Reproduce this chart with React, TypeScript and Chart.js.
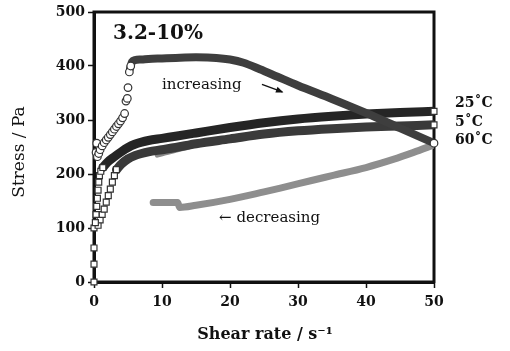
import React, { useEffect, useRef } from "react";
import { Chart, registerables } from "chart.js";

Chart.register(...registerables);

// Axis ticks
const xTicks = [0, 10, 20, 30, 40, 50];
const yTicks = [0, 100, 200, 300, 400, 500];

// 60°C increasing – open circles at low shear rate
const circ60X = [0.3, 0.4, 0.5, 0.7, 0.9, 1.2, 1.5, 1.8, 2.1, 2.4, 2.7, 3.0, 3.3, 3.6, 3.9, 4.2, 4.5, 4.7, 4.9, 5.0, 5.2, 5.4, 50];
const circ60Y = [240, 257, 232, 238, 245, 252, 258, 263, 268, 273, 278, 283, 288, 293, 298, 304, 312, 335, 340, 360, 389, 400, 257];

// 60°C increasing – dense band
const inc60X = [5.3, 5.6, 6, 7, 8, 10, 12, 15, 18, 20, 22, 24.4, 27, 30, 35, 40, 45, 50];
const inc60Y = [395, 408, 411, 412, 413, 414, 415, 416, 415, 412, 406, 394, 380, 364, 339, 313, 285, 257];

// 60°C decreasing
const dec60X = [8.7, 12.3, 12.6, 15, 20, 25, 27.4, 32, 35, 40, 44, 47, 50];
const dec60Y = [147, 147, 138, 142, 153, 167, 174, 188, 197, 212, 227, 240, 254];

// 25°C open squares at low shear rate
const sq25X = [0, 0, 0, 0.2, 0.3, 0.4, 0.5, 0.6, 0.7, 0.8, 1.0, 1.3, 50];
const sq25Y = [0, 33, 63, 110, 125, 140, 155, 170, 185, 197, 205, 212, 316];

// 25°C band
const band25X = [1.3, 2, 3, 4, 5, 6, 7, 8, 10, 12, 15, 20, 25, 30, 35, 40, 45, 50];
const band25Y = [212, 222, 232, 241, 249, 255, 259, 262, 266, 270, 276, 286, 295, 302, 307, 311, 314, 316];

// 5°C open squares at low shear rate
const sq5X = [0, 0.6, 0.9, 1.2, 1.5, 1.8, 2.1, 2.4, 2.7, 3.0, 3.3, 50];
const sq5Y = [100, 105, 115, 125, 135, 148, 160, 172, 185, 197, 208, 291];

// 5°C band
const band5X = [3.3, 4, 5, 6, 7, 8, 10, 12, 15, 20, 25, 30, 35, 40, 45, 50];
const band5Y = [208, 218, 228, 234, 238, 241, 245, 249, 256, 265, 274, 280, 284, 287, 289, 291];

// decreasing branch mostly hidden under the bands
const decBandX = [9.3, 10.5, 12, 14];
const decBandY = [235, 239, 244, 250];

const tempLabels = ["25˚C", "5˚C", "60˚C"];
const tempLabelY = [330, 296, 263];

const pts = (xs: number[], ys: number[]) => xs.map((x, i) => ({ x, y: ys[i] }));

const SERIF = "'DejaVu Serif', serif";

const annot = {
  id: "annot",
  beforeDatasetsDraw(chart: any) {
    const { ctx, chartArea } = chart;
    ctx.save();
    ctx.strokeStyle = "#111";
    ctx.lineWidth = 3;
    ctx.strokeRect(chartArea.left, chartArea.top, chartArea.right - chartArea.left, chartArea.bottom - chartArea.top);
    ctx.restore();
  },
  afterDraw(chart: any) {
    const { ctx, chartArea } = chart;
    const xs = chart.scales.x;
    const ys = chart.scales.y;
    ctx.save();
    ctx.fillStyle = "#111";
    ctx.textBaseline = "middle";
    ctx.textAlign = "left";

    ctx.font = `bold 20px ${SERIF}`;
    ctx.fillText("3.2-10%", xs.getPixelForValue(2.8), ys.getPixelForValue(459));

    ctx.font = `15px ${SERIF}`;
    ctx.fillText("increasing", xs.getPixelForValue(10), ys.getPixelForValue(365));
    ctx.fillText("← decreasing", xs.getPixelForValue(18.4), ys.getPixelForValue(118));

    // arrow for "increasing"
    const ax1 = xs.getPixelForValue(24.7), ay1 = ys.getPixelForValue(366);
    const ax2 = xs.getPixelForValue(27.7), ay2 = ys.getPixelForValue(352);
    ctx.strokeStyle = "#111";
    ctx.lineWidth = 1.5;
    ctx.beginPath();
    ctx.moveTo(ax1, ay1);
    ctx.lineTo(ax2, ay2);
    ctx.stroke();
    const ang = Math.atan2(ay2 - ay1, ax2 - ax1);
    ctx.beginPath();
    ctx.moveTo(ax2 + 1, ay2 + 0.5);
    ctx.lineTo(ax2 - 7 * Math.cos(ang - 0.45), ay2 - 7 * Math.sin(ang - 0.45));
    ctx.lineTo(ax2 - 7 * Math.cos(ang + 0.45), ay2 - 7 * Math.sin(ang + 0.45));
    ctx.closePath();
    ctx.fill();

    ctx.font = `bold 14px ${SERIF}`;
    tempLabels.forEach((t, i) => {
      ctx.fillText(t, chartArea.right + 21, ys.getPixelForValue(tempLabelY[i]));
    });

    // axis titles
    ctx.textAlign = "center";
    ctx.font = `bold 16px ${SERIF}`;
    ctx.fillText("Shear rate / s⁻¹", 265, 335);
    ctx.save();
    ctx.translate(20, 152);
    ctx.rotate(-Math.PI / 2);
    ctx.font = `17px ${SERIF}`;
    ctx.fillText("Stress / Pa", 0, 0);
    ctx.restore();
    ctx.restore();
  },
};

export default function App() {
  const ref = useRef<HTMLCanvasElement | null>(null);
  useEffect(() => {
    document.body.style.margin = "0";
    const canvas = ref.current!;
    const line = (label: string, xs: number[], ys: number[], color: string, width: number) => ({
      label,
      data: pts(xs, ys),
      borderColor: color,
      backgroundColor: color,
      borderWidth: width,
      pointRadius: 0,
      showLine: true,
      cubicInterpolationMode: "monotone",
      borderCapStyle: "round",
      borderJoinStyle: "round",
    });
    const marks = (label: string, xs: number[], ys: number[], style: string, r: number) => ({
      label,
      data: pts(xs, ys),
      showLine: false,
      pointStyle: style,
      pointRadius: r,
      pointBorderWidth: 1.2,
      pointBorderColor: "#333",
      pointBackgroundColor: "#fff",
      clip: false,
    });
    const chart = new Chart(canvas, {
      type: "scatter",
      data: {
        datasets: [
          marks("60°C points", circ60X, circ60Y, "circle", 3.8),
          marks("25°C points", sq25X, sq25Y, "rect", 4.2),
          marks("5°C points", sq5X, sq5Y, "rect", 4.2),
          line("60°C increasing", inc60X, inc60Y, "#3e3e3e", 8),
          line("25°C", band25X, band25Y, "#252525", 9),
          line("5°C", band5X, band5Y, "#3a3a3a", 9),
          line("decreasing (band)", decBandX, decBandY, "#8a8a8a", 5),
          line("60°C decreasing", dec60X, dec60Y, "#8e8e8e", 7),
        ] as any,
      },
      options: {
        animation: false,
        responsive: false,
        maintainAspectRatio: false,
        layout: { padding: { left: 0, top: 12, right: 76, bottom: 0 } },
        plugins: { legend: { display: false }, tooltip: { enabled: false } },
        scales: {
          x: {
            type: "linear",
            min: 0,
            max: 50,
            afterBuildTicks: (axis: any) => {
              axis.ticks = xTicks.map((v) => ({ value: v }));
            },
            afterFit: (axis: any) => {
              axis.height = 69;
            },
            grid: { drawOnChartArea: false, drawTicks: true, tickLength: 6, tickWidth: 1.5, tickColor: "#111" },
            border: { display: true, width: 3, color: "#111" },
            ticks: { color: "#111", padding: 6, maxRotation: 0, font: { family: SERIF, size: 14, weight: "bold" } },
          },
          y: {
            type: "linear",
            min: 0,
            max: 500,
            afterBuildTicks: (axis: any) => {
              axis.ticks = yTicks.map((v) => ({ value: v }));
            },
            afterFit: (axis: any) => {
              axis.width = 94;
            },
            grid: { drawOnChartArea: false, drawTicks: true, tickLength: 6, tickWidth: 1.5, tickColor: "#111" },
            border: { display: true, width: 3, color: "#111" },
            ticks: { color: "#111", padding: 3, font: { family: SERIF, size: 14, weight: "bold" } },
          },
        },
      },
      plugins: [annot],
    } as any);
    return () => chart.destroy();
  }, []);
  return (
    <div style={{ width: 510, height: 351, background: "#fff" }}>
      <canvas ref={ref} width={510} height={351} style={{ display: "block", width: 510, height: 351 }} />
    </div>
  );
}
